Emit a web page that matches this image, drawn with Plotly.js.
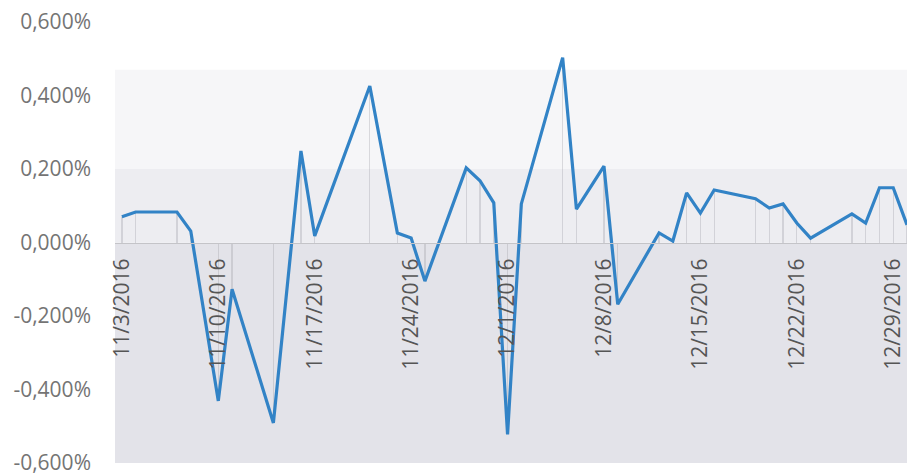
<!DOCTYPE html>
<html>
<head>
<meta charset="utf-8">
<script src="https://cdn.plot.ly/plotly-3.0.1.min.js"></script>
<style>html,body{margin:0;padding:0;background:#fff;}#chart{width:907px;height:476px;}</style>
</head>
<body>
<div id="chart"></div>
<script>
// Daily return (%)
const dates = ['2016-11-03','2016-11-04','2016-11-07','2016-11-08','2016-11-10','2016-11-11',
  '2016-11-14','2016-11-16','2016-11-17','2016-11-21','2016-11-23','2016-11-24','2016-11-25',
  '2016-11-28','2016-11-29','2016-11-30','2016-12-01','2016-12-02','2016-12-05','2016-12-06',
  '2016-12-08','2016-12-09','2016-12-12','2016-12-13','2016-12-14','2016-12-15','2016-12-16',
  '2016-12-19','2016-12-20','2016-12-21','2016-12-22','2016-12-23','2016-12-26','2016-12-27',
  '2016-12-28','2016-12-29','2016-12-30'];
const values = [0.070,0.083,0.083,0.031,-0.431,-0.127,
  -0.491,0.249,0.018,0.426,0.026,0.012,-0.105,
  0.203,0.168,0.108,-0.522,0.105,0.503,0.091,
  0.208,-0.168,0.026,0.004,0.135,0.080,0.143,
  0.119,0.094,0.105,0.053,0.012,0.078,0.053,
  0.149,0.149,0.048];

const xTickDates = ['2016-11-03','2016-11-10','2016-11-17','2016-11-24','2016-12-01',
  '2016-12-08','2016-12-15','2016-12-22','2016-12-29'];
const xTickLabels = ['11/3/2016','11/10/2016','11/17/2016','11/24/2016','12/1/2016',
  '12/8/2016','12/15/2016','12/22/2016','12/29/2016'];
const yTickValues = [0.6,0.4,0.2,0,-0.2,-0.4,-0.6];
const yTickLabels = ['0,600%','0,400%','0,200%','0,000%','-0,200%','-0,400%','-0,600%'];

const dayMs = 86400000;

const dropLines = {
  type: 'bar', x: dates, y: values,
  width: dates.map(() => 0.09 * dayMs),
  marker: {color: 'rgba(160,160,170,0.35)', line: {width: 0}},
  hoverinfo: 'skip', showlegend: false
};
const line = {
  type: 'scatter', mode: 'lines', x: dates, y: values,
  line: {color: '#3283c6', width: 3.2},
  showlegend: false
};

const layout = {
  width: 907, height: 476,
  margin: {l: 115, r: 0, t: 22, b: 13},
  paper_bgcolor: '#ffffff',
  plot_bgcolor: 'rgba(0,0,0,0)',
  font: {family: 'Open Sans, sans-serif'},
  showlegend: false,
  xaxis: {
    type: 'date',
    range: ['2016-11-02 12:00', '2016-12-30 00:00'],
    anchor: 'free', position: 0.5,
    tickvals: xTickDates, ticktext: xTickLabels,
    tickangle: -90,
    ticks: '', ticklabelstandoff: 6,
    ticklabeloverflow: 'allow',
    showline: true, linecolor: '#c4c4c8', linewidth: 1.5,
    showgrid: false, zeroline: false,
    tickfont: {size: 21, color: '#555555', family: 'Open Sans, sans-serif'}
  },
  yaxis: {
    range: [-0.6, 0.6],
    tickvals: yTickValues, ticktext: yTickLabels,
    ticks: '', ticklabelstandoff: 23,
    ticklabeloverflow: 'allow',
    showgrid: false, zeroline: false, showline: false,
    tickfont: {size: 21, color: '#747474', family: 'Open Sans, sans-serif'}
  },
  shapes: [
    {type: 'rect', xref: 'paper', yref: 'y', x0: 0, x1: 1, y0: -0.6, y1: 0,
     fillcolor: '#e3e3e9', line: {width: 0}, layer: 'below'},
    {type: 'rect', xref: 'paper', yref: 'y', x0: 0, x1: 1, y0: 0, y1: 0.2,
     fillcolor: '#ededf1', line: {width: 0}, layer: 'below'},
    {type: 'rect', xref: 'paper', yref: 'y', x0: 0, x1: 1, y0: 0.2, y1: 0.47,
     fillcolor: '#f6f6f8', line: {width: 0}, layer: 'below'}
  ],
  bargap: 0
};

Plotly.newPlot('chart', [dropLines, line], layout, {displayModeBar: false, staticPlot: true});
</script>
</body>
</html>
